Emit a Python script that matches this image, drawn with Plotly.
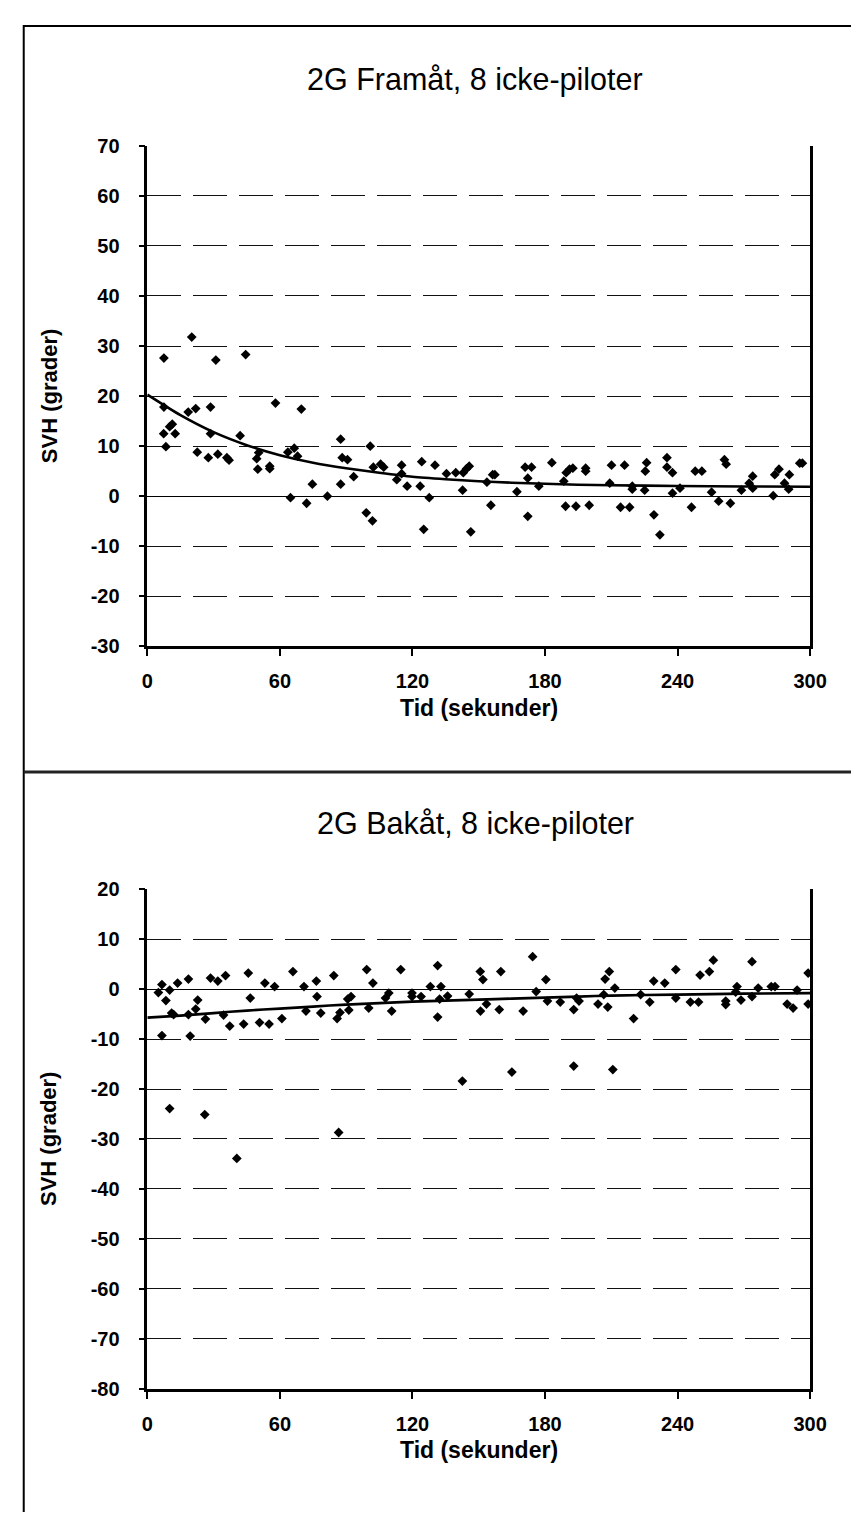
import plotly.graph_objects as go

# ---------------- data ----------------
# Top panel: 2G Framåt (forward), time (s) and SVH (degrees)
t_fwd = [7.5, 20.1, 31.0, 44.5, 7.5, 7.4, 8.4, 10.1, 11.3, 12.6,
         18.5, 21.9, 22.6, 27.6, 28.6, 28.6, 31.9, 36.0, 37.0, 42.0,
         49.5, 50.0, 50.4, 55.4, 55.4, 58.0, 63.6, 64.8, 66.5, 68.0,
         69.7, 72.1, 74.7, 81.5, 87.5, 87.5, 88.2, 90.6, 93.4, 99.1,
         100.9, 101.9, 102.3, 105.6, 107.0, 112.9, 115.1, 115.1, 117.6, 123.5,
         124.2, 125.1, 127.6, 130.2, 135.4, 139.6, 142.7, 143.0, 144.5, 145.7,
         146.4, 153.7, 155.5, 156.3, 157.3, 167.3, 171.0, 173.9, 172.2, 172.2,
         177.2, 183.1, 188.5, 189.3, 189.6, 191.1, 192.6, 194.0, 198.4, 198.4,
         200.0, 209.3, 210.1, 214.2, 216.0, 218.3, 219.5, 219.5, 225.1, 225.4,
         226.0, 229.3, 232.0, 235.2, 235.2, 237.7, 237.7, 241.1, 246.3, 248.0,
         251.0, 255.4, 258.6, 261.2, 262.0, 263.9, 268.9, 272.4, 274.0, 274.0,
         283.3, 284.0, 285.9, 288.4, 290.6, 290.3, 295.3, 296.5]
svh_fwd = [27.6, 31.8, 27.2, 28.3, 17.8, 12.5, 9.9, 13.9, 14.4, 12.5,
           16.8, 17.5, 8.8, 7.7, 17.8, 12.5, 8.4, 7.7, 7.2, 12.1,
           7.5, 5.4, 8.7, 6.0, 5.5, 18.6, 8.8, -0.3, 9.6, 8.0,
           17.4, -1.4, 2.4, 0.0, 11.4, 2.4, 7.7, 7.3, 3.9, -3.3,
           10.0, -4.9, 5.8, 6.4, 5.8, 3.3, 6.2, 4.5, 2.0, 2.0,
           6.9, -6.6, -0.3, 6.2, 4.5, 4.7, 1.2, 4.7, 5.5, 6.0,
           -7.1, 2.8, -1.8, 4.3, 4.3, 0.9, 5.8, 5.8, 3.6, -4.0,
           2.0, 6.7, 3.0, -2.0, 4.7, 5.4, 5.6, -2.0, 5.6, 5.0,
           -1.8, 2.6, 6.2, -2.2, 6.2, -2.2, 2.0, 1.4, 1.2, 5.0,
           6.7, -3.7, -7.7, 7.7, 5.8, 4.7, 0.6, 1.6, -2.2, 5.0,
           5.0, 0.8, -1.0, 7.3, 6.4, -1.4, 1.2, 2.6, 4.0, 1.6,
           0.1, 4.3, 5.4, 2.6, 4.3, 1.4, 6.6, 6.6]

# Bottom panel: 2G Bakåt (backward)
t_bwd = [5.0, 6.6, 8.4, 6.6, 10.1, 10.1, 11.0, 11.9, 13.7, 18.6,
         18.6, 19.4, 21.9, 22.8, 26.0, 26.3, 28.6, 31.9, 34.5, 35.4,
         37.3, 40.5, 43.6, 45.7, 46.6, 50.8, 53.2, 55.1, 57.6, 60.9,
         65.9, 70.9, 71.8, 76.5, 76.8, 78.5, 84.4, 85.9, 86.6, 87.2,
         90.7, 92.2, 91.2, 99.3, 100.2, 102.1, 107.8, 109.3, 110.6, 114.7,
         119.8, 119.8, 123.9, 128.1, 131.4, 131.4, 132.9, 132.3, 135.9, 142.6,
         145.7, 150.7, 151.9, 150.8, 153.5, 159.3, 160.0, 165.0, 170.1, 174.4,
         176.0, 180.4, 181.1, 186.9, 193.0, 193.0, 194.3, 195.4, 204.0, 206.6,
         207.2, 208.4, 209.1, 210.7, 211.6, 220.1, 223.3, 227.4, 229.2, 234.2,
         239.2, 239.2, 245.8, 249.5, 250.2, 254.4, 256.2, 261.8, 261.8, 266.3,
         266.9, 268.7, 273.7, 273.7, 276.5, 282.4, 284.1, 289.6, 292.3, 294.1,
         299.1, 299.1]
svh_bwd = [-0.7, 0.9, -2.3, -9.3, -0.2, -23.9, -4.8, -5.1, 1.2, 2.0,
           -5.1, -9.4, -4.0, -2.2, -25.1, -6.0, 2.2, 1.6, -5.2, 2.7,
           -7.4, -33.9, -7.0, 3.2, -1.8, -6.7, 1.2, -7.0, 0.5, -5.9,
           3.5, 0.5, -4.4, 1.6, -1.5, -4.8, 2.7, -5.9, -28.7, -4.7,
           -2.0, -1.5, -4.2, 3.9, -3.8, 1.2, -1.8, -0.8, -4.4, 3.9,
           -0.8, -1.5, -1.5, 0.5, 4.7, -5.6, 0.5, -2.0, -1.4, -18.4,
           -1.0, 3.5, 1.9, -4.4, -3.0, -4.1, 3.5, -16.6, -4.4, 6.5,
           -0.5, 1.9, -2.4, -2.6, -4.1, -15.4, -1.8, -2.4, -3.0, -1.1,
           2.0, -3.6, 3.5, -16.1, 0.2, -5.9, -1.1, -2.6, 1.6, 1.2,
           3.9, -1.8, -2.6, -2.6, 2.8, 3.5, 5.8, -2.4, -3.1, -0.6,
           0.5, -2.2, 5.5, -1.5, 0.2, 0.5, 0.5, -3.0, -3.8, -0.2,
           3.2, -3.0]

# Trend lines
trend_t = [0, 15, 30, 45, 60, 75, 90, 105, 120, 135, 150, 165, 180, 195, 210, 240, 270, 300]
trend_fwd = [20.3, 16.2, 12.8, 10.2, 8.2, 6.7, 5.6, 4.7, 3.9, 3.4, 3.0, 2.7, 2.5, 2.3, 2.2, 2.05, 1.95, 1.9]
trend_bwd = [-5.7, -5.3, -4.8, -4.3, -3.9, -3.5, -3.1, -2.8, -2.5, -2.3, -2.1, -1.9, -1.7, -1.5, -1.3, -1.1, -0.9, -0.8]

x_ticks = [0, 60, 120, 180, 240, 300]
y_ticks_fwd = [-30, -20, -10, 0, 10, 20, 30, 40, 50, 60, 70]
y_ticks_bwd = [-80, -70, -60, -50, -40, -30, -20, -10, 0, 10, 20]
titles = ["2G Framåt, 8 icke-piloter", "2G Bakåt, 8 icke-piloter"]
x_title = "Tid (sekunder)"
y_title = "SVH (grader)"

# ---------------- layout helpers ----------------
W, H = 860, 1515
FONT = "Liberation Sans, Arial, sans-serif"


def px(x):
    return x / W


def py(y):
    return 1 - y / H


X_L, X_R = 137, 818
TOP_PLOT = (128.6, 636.7)
BOT_PLOT = (883.0, 1390.0)

fig = go.Figure()

for t, v, tr, ax in [(t_fwd, svh_fwd, trend_fwd, ""), (t_bwd, svh_bwd, trend_bwd, "2")]:
    fig.add_trace(go.Scatter(
        x=t, y=v, mode="markers",
        marker=dict(symbol="diamond", size=7.5, color="black", line=dict(width=0)),
        xaxis="x" + ax, yaxis="y" + ax, showlegend=False, hoverinfo="skip"))
    fig.add_trace(go.Scatter(
        x=trend_t, y=tr, mode="lines",
        line=dict(color="black", width=2.6, shape="spline", smoothing=0.6),
        xaxis="x" + ax, yaxis="y" + ax, showlegend=False, hoverinfo="skip"))

tickfont = dict(family=FONT, size=20, color="black", weight="bold")


def xaxis_cfg(anchor):
    return dict(domain=[px(X_L), px(X_R)], range=[0, 300], tickvals=x_ticks,
                ticktext=[str(v) for v in x_ticks],
                ticks="outside", ticklen=7, tickwidth=2, tickcolor="black",
                showline=True, linewidth=2.5, linecolor="black", mirror=False,
                showgrid=False, zeroline=False, tickfont=tickfont,
                ticklabelstandoff=8, anchor=anchor, fixedrange=True)


def yaxis_cfg(anchor, ticks, plot):
    return dict(domain=[py(plot[1]), py(plot[0])], range=[ticks[0], ticks[-1]],
                tickvals=ticks, ticktext=[str(v) for v in ticks],
                ticks="outside", ticklen=6, tickwidth=2, tickcolor="black",
                showline=True, linewidth=2.5, linecolor="black", mirror=True,
                showgrid=True, gridcolor="#111", gridwidth=1.4, griddash="34px,12px",
                zeroline=True, zerolinecolor="black", zerolinewidth=1.3,
                tickfont=tickfont, ticklabelstandoff=15, anchor=anchor, fixedrange=True)


annotations = []
for plot, ttl in [(TOP_PLOT, titles[0]), (BOT_PLOT, titles[1])]:
    annotations.append(dict(text=ttl, x=px(474), y=py(plot[0] - 67), xref="paper", yref="paper",
                            showarrow=False, xanchor="center", yanchor="middle",
                            font=dict(family=FONT, size=30.5, color="black")))
    annotations.append(dict(text=x_title, x=px(478), y=py(plot[1] + 62), xref="paper", yref="paper",
                            showarrow=False, xanchor="center", yanchor="middle",
                            font=dict(family=FONT, size=23, color="black", weight="bold")))
    annotations.append(dict(text=y_title, x=px(36), y=py((plot[0] + plot[1]) / 2), xref="paper", yref="paper",
                            showarrow=False, xanchor="center", yanchor="middle", textangle=-90,
                            font=dict(family=FONT, size=22, color="black", weight="bold")))

shapes = [
    dict(type="line", xref="paper", yref="paper", x0=px(10), x1=px(10), y0=py(6), y1=0,
         line=dict(color="black", width=2)),
    dict(type="line", xref="paper", yref="paper", x0=px(10), x1=1, y0=py(7), y1=py(7),
         line=dict(color="black", width=2)),
    dict(type="line", xref="paper", yref="paper", x0=px(10), x1=1, y0=py(764), y1=py(764),
         line=dict(color="#222", width=3)),
]

fig.update_layout(
    width=W, height=H,
    margin=dict(l=0, r=0, t=0, b=0),
    paper_bgcolor="white", plot_bgcolor="white",
    xaxis=xaxis_cfg("y"), yaxis=yaxis_cfg("x", y_ticks_fwd, TOP_PLOT),
    xaxis2=xaxis_cfg("y2"), yaxis2=yaxis_cfg("x2", y_ticks_bwd, BOT_PLOT),
    annotations=annotations, shapes=shapes,
    font=dict(family=FONT, color="black"),
)

fig.write_html("out.html")
